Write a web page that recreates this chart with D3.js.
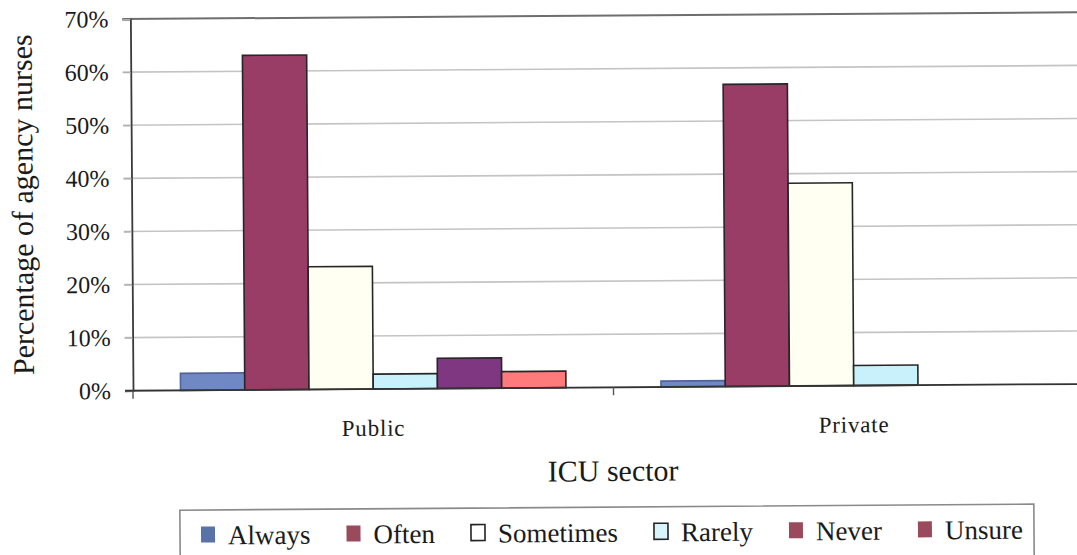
<!DOCTYPE html>
<html>
<head>
<meta charset="utf-8">
<script src="https://cdn.jsdelivr.net/npm/d3@7/dist/d3.min.js"></script>
<style>
  html, body { margin: 0; padding: 0; background: #fff; }
  svg { display: block; }
  text { font-family: "Liberation Serif", "Times New Roman", serif; fill: #1a1a1a; }
</style>
</head>
<body>
<script>
// ICU sector categories and response series (percent of agency nurses)
const categories = ["Public", "Private"];
const series = ["Always", "Often", "Sometimes", "Rarely", "Never", "Unsure"];
const publicValues = [3.2, 63.0, 23.1, 2.8, 5.7, 3.1];
const privateValues = [1.1, 56.9, 38.2, 3.8, 0, 0];
const yTicks = [0, 10, 20, 30, 40, 50, 60, 70];

// Fill colours for the bars, and for the legend keys
const barColors = ["#7088c4", "#993c66", "#fffff2", "#c8f1fb", "#7e3780", "#ff7b7b"];
const legendColors = ["#5a73a6", "#9a4a5c", "#ffffff", "#d8f4fa", "#9a4a5c", "#9a4a5c"];

const W = 1077, H = 555;
const svg = d3.select("body").append("svg").attr("width", W).attr("height", H);
svg.append("rect").attr("width", W).attr("height", H).attr("fill", "#fff");

// whole figure sits at a slight tilt
const root = svg.append("g").attr("transform", "rotate(-0.405,133,390.7)");

const plotLeft = 133, plotRight = 1094, plotTop = 19, plotBottom = 390.7;

const x0 = d3.scaleBand().domain(categories).range([plotLeft, plotRight]);
const x1 = d3.scaleBand().domain(series).range([0, x0.bandwidth()])
  .paddingInner(0).paddingOuter(0.74);
const y = d3.scaleLinear().domain([0, 70]).range([plotBottom, plotTop]);

// gridlines
root.append("g").selectAll("line").data(yTicks.filter(d => d > 0)).join("line")
  .attr("x1", plotLeft - 8).attr("x2", plotRight)
  .attr("y1", d => y(d)).attr("y2", d => y(d))
  .attr("stroke", d => d === 70 ? "#6e6e6e" : "#c4c4c4")
  .attr("stroke-width", d => d === 70 ? 2 : 1.6);

// y axis with percentage labels
const yAxis = root.append("g").attr("transform", `translate(${plotLeft},0)`)
  .call(d3.axisLeft(y).tickValues(yTicks).tickSize(8).tickPadding(14)
    .tickFormat(d => d + "%"));
yAxis.select(".domain").attr("stroke", "#3a3a3a").attr("stroke-width", 1.8);
yAxis.selectAll(".tick line").attr("stroke", "#b0b0b0").attr("stroke-width", 1.4);
yAxis.selectAll(".tick text").attr("font-size", 24)
  .attr("font-family", "Liberation Serif").attr("fill", "#1a1a1a");

// bars
const rows = categories.map((c, i) => ({
  cat: c,
  vals: (i === 0 ? publicValues : privateValues)
}));
const groups = root.append("g").selectAll("g").data(rows).join("g")
  .attr("transform", d => `translate(${x0(d.cat)},0)`);
groups.selectAll("rect")
  .data(d => d.vals.map((v, j) => ({ s: series[j], v, j })).filter(e => e.v > 0))
  .join("rect")
  .attr("x", e => x1(e.s))
  .attr("width", x1.bandwidth())
  .attr("y", e => y(e.v))
  .attr("height", e => y(0) - y(e.v))
  .attr("fill", e => barColors[e.j])
  .attr("stroke", e => e.j === 0 ? "#50649a" : "#262626")
  .attr("stroke-width", 1.6);

// x axis baseline and category ticks
root.append("line").attr("x1", plotLeft - 8).attr("x2", plotRight)
  .attr("y1", y(0)).attr("y2", y(0))
  .attr("stroke", "#333").attr("stroke-width", 1.8);
root.append("g").selectAll("line").data(categories).join("line")
  .attr("x1", d => x0(d)).attr("x2", d => x0(d))
  .attr("y1", y(0)).attr("y2", y(0) + 8)
  .attr("stroke", "#555").attr("stroke-width", 1.4);

const xAxis = root.append("g").attr("transform", `translate(0,${y(0)})`)
  .call(d3.axisBottom(x0).tickSize(0).tickPadding(0));
xAxis.select(".domain").remove();
xAxis.selectAll(".tick text")
  .attr("dy", null).attr("y", 46.8)
  .attr("font-size", 23).attr("letter-spacing", 0.8)
  .attr("font-family", "Liberation Serif").attr("fill", "#1a1a1a");

// axis titles
root.append("text")
  .attr("transform", `translate(34,204) rotate(-90)`)
  .attr("text-anchor", "middle").attr("font-size", 30)
  .text("Percentage of agency nurses");
root.append("text")
  .attr("x", 612.5).attr("y", 484.4)
  .attr("text-anchor", "middle").attr("font-size", 30)
  .text("ICU sector");

// legend
const legend = root.append("g");
legend.append("rect")
  .attr("x", 179).attr("y", 510.5).attr("width", 854).attr("height", 52)
  .attr("fill", "#fff").attr("stroke", "#8a8a8a").attr("stroke-width", 1.6);
let lx = 200;
series.forEach((s, i) => {
  const g = legend.append("g");
  g.append("rect").attr("x", lx).attr("y", 527).attr("width", 14).attr("height", 16)
    .attr("fill", legendColors[i])
    .attr("stroke", (i === 2 || i === 3) ? "#222" : "none").attr("stroke-width", 1.6);
  const t = g.append("text").attr("x", lx + 27).attr("y", 545)
    .attr("font-size", 27).text(s);
  lx += 27 + t.node().getComputedTextLength() + 36;
});
</script>
</body>
</html>
